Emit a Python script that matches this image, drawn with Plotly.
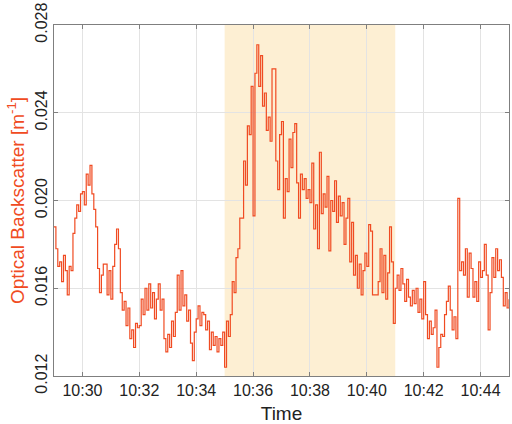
import pandas as pd
import plotly.graph_objects as go

# backscatter samples, one every 4 s from 10:29:00 (one row per minute)
start_time = "2021-06-01 10:29:00"
sample_step = "4s"
backscatter = [
    0.0188, 0.0178, 0.0170, 0.0172, 0.0163, 0.0175, 0.0168, 0.0157, 0.0170, 0.0168, 0.0185, 0.0192, 0.0198, 0.0195, 0.0203,
    0.0204, 0.0198, 0.0212, 0.0207, 0.0216, 0.0203, 0.0196, 0.0188, 0.0169, 0.0158, 0.0166, 0.0171, 0.0171, 0.0157, 0.0168,
    0.0155, 0.0170, 0.0180, 0.0187, 0.0178, 0.0158, 0.0150, 0.0154, 0.0143, 0.0151, 0.0137, 0.0141, 0.0133, 0.0144, 0.0142,
    0.0143, 0.0155, 0.0148, 0.0160, 0.0150, 0.0162, 0.0151, 0.0158, 0.0146, 0.0155, 0.0162, 0.0150, 0.0155, 0.0137, 0.0131,
    0.0139, 0.0133, 0.0145, 0.0138, 0.0149, 0.0166, 0.0150, 0.0168, 0.0152, 0.0157, 0.0145, 0.0150, 0.0135, 0.0127, 0.0140,
    0.0146, 0.0152, 0.0143, 0.0149, 0.0148, 0.0141, 0.0145, 0.0132, 0.0140, 0.0134, 0.0138, 0.0131, 0.0137, 0.0134, 0.0140,
    0.0124, 0.0145, 0.0138, 0.0148, 0.0163, 0.0158, 0.0174, 0.0178, 0.0192, 0.0192, 0.0218, 0.0207, 0.0234, 0.0230, 0.0252,
    0.0193, 0.0258, 0.0271, 0.0252, 0.0266, 0.0243, 0.0249, 0.0232, 0.0238, 0.0227, 0.0260, 0.0260, 0.0218, 0.0205, 0.0230,
    0.0236, 0.0192, 0.0210, 0.0204, 0.0228, 0.0215, 0.0231, 0.0235, 0.0208, 0.0192, 0.0212, 0.0205, 0.0210, 0.0201, 0.0205,
    0.0199, 0.0217, 0.0187, 0.0198, 0.0178, 0.0222, 0.0194, 0.0203, 0.0197, 0.0211, 0.0177, 0.0200, 0.0195, 0.0209, 0.0190,
    0.0202, 0.0193, 0.0199, 0.0180, 0.0192, 0.0201, 0.0172, 0.0190, 0.0166, 0.0175, 0.0160, 0.0171, 0.0157, 0.0168, 0.0176,
    0.0170, 0.0189, 0.0186, 0.0157, 0.0157, 0.0157, 0.0163, 0.0178, 0.0158, 0.0175, 0.0155, 0.0167, 0.0188, 0.0172, 0.0144,
    0.0160, 0.0166, 0.0159, 0.0169, 0.0162, 0.0154, 0.0164, 0.0156, 0.0152, 0.0159, 0.0153, 0.0160, 0.0149, 0.0155, 0.0146,
    0.0163, 0.0148, 0.0137, 0.0145, 0.0139, 0.0142, 0.0150, 0.0124, 0.0133, 0.0139, 0.0138, 0.0148, 0.0154, 0.0161, 0.0150,
    0.0141, 0.0147, 0.0137, 0.0201, 0.0168, 0.0172, 0.0166, 0.0178, 0.0156, 0.0176, 0.0169, 0.0156, 0.0163, 0.0154, 0.0172,
    0.0165, 0.0168, 0.0180, 0.0166, 0.0141, 0.0158, 0.0174, 0.0165, 0.0178, 0.0168, 0.0173, 0.0165, 0.0152, 0.0158, 0.0151,
    0.0155,
]
times = pd.date_range(start_time, periods=len(backscatter), freq=sample_step)

# highlighted period
event_start = "2021-06-01 10:35:00"
event_end = "2021-06-01 10:41:00"

y_ticks = [0.012, 0.016, 0.020, 0.024, 0.028]

red = '#f04b22'

fig = go.Figure()
fig.add_trace(go.Scatter(x=times, y=backscatter, mode='lines', line={'color': red, 'width': 1.2, 'shape': 'hv'},
                         showlegend=False))

fig.add_shape(type='rect', xref='x', yref='paper', x0=event_start, x1=event_end, y0=0, y1=1,
              fillcolor='#fdefd3', line={'width': 0}, layer='below')

fig.update_layout(
    width=512, height=424,
    margin={'l': 54, 'r': 2, 't': 23, 'b': 48},
    paper_bgcolor='white', plot_bgcolor='white',
    font={'family': 'Liberation Sans, Arial', 'size': 16, 'color': '#222222'},
    xaxis={'range': ["2021-06-01 10:29:00", "2021-06-01 10:45:00"], 'tickformat': '%H:%M',
           'tick0': "2021-06-01 10:30:00", 'dtick': 120000, 'ticklabeloverflow': 'allow',
           'showgrid': True, 'gridcolor': '#e3e3e3', 'gridwidth': 1,
           'showline': True, 'linecolor': '#7f7f7f', 'mirror': 'ticks', 'ticks': 'inside', 'ticklen': 4,
           'tickcolor': '#7f7f7f', 'title': {'text': 'Time', 'standoff': 8}},
    yaxis={'range': [0.012, 0.028], 'tickvals': y_ticks, 'ticktext': [f"{v:.3f}" for v in y_ticks],
           'tickangle': -90, 'ticklabeloverflow': 'allow',
           'showgrid': True, 'gridcolor': '#e3e3e3', 'gridwidth': 1,
           'showline': True, 'linecolor': '#7f7f7f', 'mirror': 'ticks', 'ticks': 'inside', 'ticklen': 4,
           'tickcolor': '#7f7f7f',
           'title': {'text': 'Optical Backscatter [m<sup>-1</sup>]', 'font': {'color': red}, 'standoff': 2}},
)

# drop the page's default body margin so the figure fills the window
fig.write_html("out.html", config={'displayModeBar': False},
               post_script="document.body.style.margin='0';")
